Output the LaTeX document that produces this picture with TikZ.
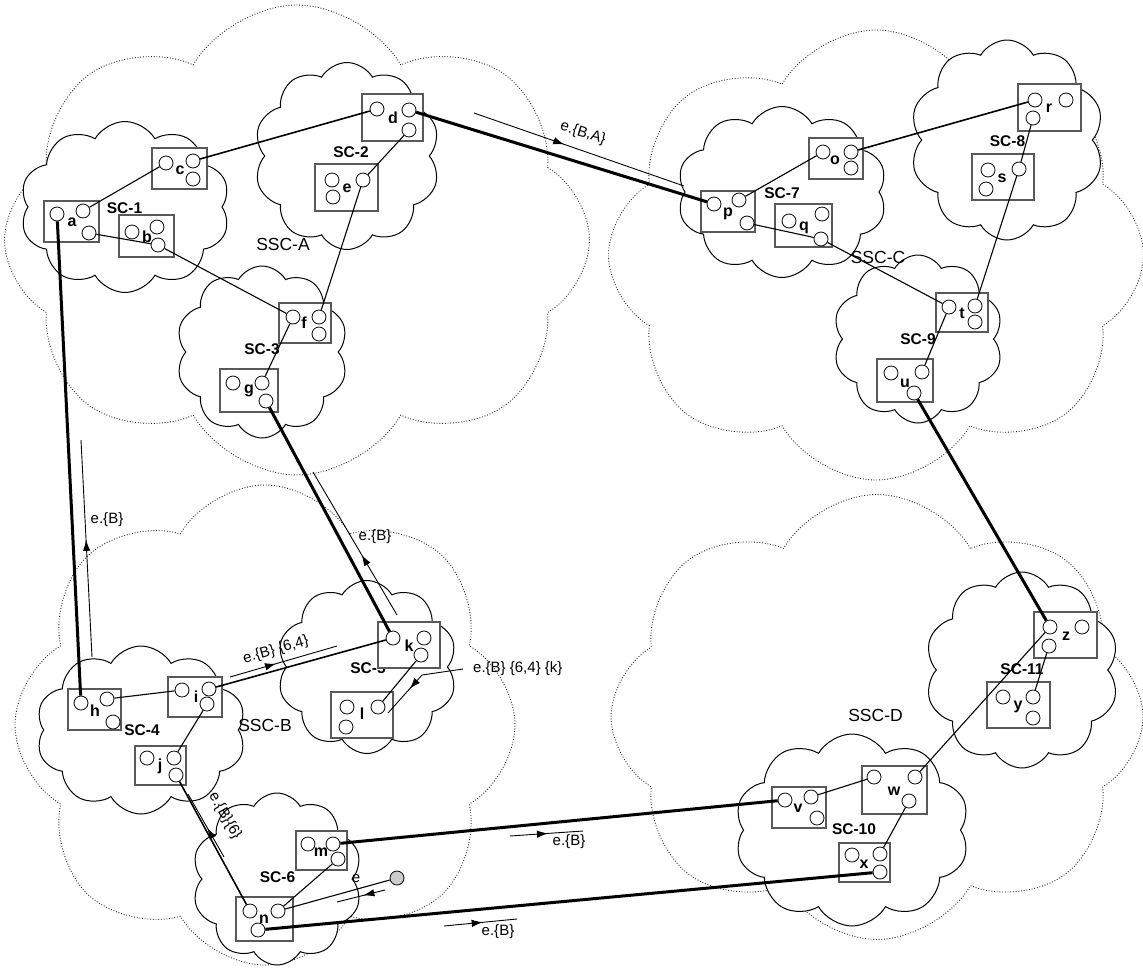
\documentclass[tikz,border=0pt]{standalone}
\usepackage{fontspec}
\setmainfont{Liberation Sans}
\usetikzlibrary{shapes.symbols,arrows.meta,decorations.markings}
\newcommand{\mkbox}[5]{\node[scbox, minimum width=#3pt, minimum height=#4pt] (#1) at (#2) {};\node[letter] (#1-l) at (#5) {#1};}
\newcommand{\mkports}[4]{\node[port] (#1-1) at (#2) {};\node[port] (#1-2) at (#3) {};\node[port] (#1-3) at (#4) {};}
\begin{document}
\begin{tikzpicture}[x=1pt,y=-1pt,
  sscloud/.style={cloud, cloud puffs=8, cloud puff arc=120, draw=black!85, line width=0.9pt, dash pattern=on 0.9pt off 1.8pt, cloud ignores aspect, inner sep=0pt},
  sccloud/.style={cloud, cloud puffs=10, cloud puff arc=120, draw=black, fill=white, line width=1pt, cloud ignores aspect, inner sep=0pt},
  scbox/.style={rectangle, draw=black!65, fill=white, line width=1.2pt, inner sep=0pt},
  port/.style={circle, draw=black, fill=white, line width=0.8pt, minimum size=14pt, inner sep=0pt},
  srcport/.style={port, fill=black!20},
  letter/.style={font=\fontsize{16}{19}\selectfont\bfseries, inner sep=0pt},
  sclabel/.style={font=\fontsize{15.5}{18}\selectfont\bfseries, inner sep=0pt},
  ssclabel/.style={font=\fontsize{17.5}{21}\selectfont, inner sep=0pt},
  elabel/.style={font=\fontsize{15}{18}\selectfont, inner sep=0pt},
  link/.style={line width=1.1pt},
  midlink/.style={line width=1.6pt},
  thicklink/.style={line width=3pt},
  annot/.style={line width=0.9pt, decoration={markings, mark=at position #1 with {\arrow{Latex[length=11pt,width=7.5pt]}}}, postaction={decorate}},
  annot/.default=0.5]
\useasboundingbox (0,0) rectangle (1143,970);
% super clouds
\node[sscloud, minimum width=585pt, minimum height=470pt] (SSCA) at (297,240) {};
\node[sscloud, minimum width=500pt, minimum height=480pt] (SSCB) at (265,725) {};
\node[sscloud, minimum width=535pt, minimum height=450pt] (SSCC) at (876,255) {};
\node[sscloud, minimum width=532pt, minimum height=445pt] (SSCD) at (877,717) {};
% clouds
\node[sccloud, minimum width=210pt, minimum height=171pt] (SC1) at (125,207) {};
\node[sccloud, minimum width=186pt, minimum height=187pt] (SC2) at (347,156) {};
\node[sccloud, minimum width=172pt, minimum height=172pt] (SC3) at (262,352) {};
\node[sccloud, minimum width=210pt, minimum height=168pt] (SC4) at (141,730) {};
\node[sccloud, minimum width=180pt, minimum height=173pt] (SC5) at (367,667) {};
\node[sccloud, minimum width=170pt, minimum height=172pt] (SC6) at (277,879) {};
\node[sccloud, minimum width=210pt, minimum height=171pt] (SC7) at (782,192) {};
\node[sccloud, minimum width=194pt, minimum height=200pt] (SC8) at (1007,140) {};
\node[sccloud, minimum width=170pt, minimum height=168pt] (SC9) at (918,339) {};
\node[sccloud, minimum width=235pt, minimum height=192pt] (SC10) at (852,830) {};
\node[sccloud, minimum width=194pt, minimum height=196pt] (SC11) at (1022,670) {};
% labels
\node[ssclabel] (SSCA-t) at (283,244.5) {SSC-A};
\node[ssclabel] (SSCB-t) at (265,725) {SSC-B};
\node[ssclabel] (SSCC-t) at (878,257) {SSC-C};
\node[ssclabel] (SSCD-t) at (875.5,715.5) {SSC-D};
\node[sclabel] (SC1-t) at (124.5,208.5) {SC-1};
\node[sclabel] (SC2-t) at (351,152) {SC-2};
\node[sclabel] (SC3-t) at (262,349) {SC-3};
\node[sclabel] (SC4-t) at (142,730) {SC-4};
\node[sclabel] (SC5-t) at (368,668) {SC-5};
\node[sclabel] (SC6-t) at (277.5,877.5) {SC-6};
\node[sclabel] (SC7-t) at (782,193) {SC-7};
\node[sclabel] (SC8-t) at (1007.5,141.5) {SC-8};
\node[sclabel] (SC9-t) at (918,339) {SC-9};
\node[sclabel] (SC10-t) at (854,829.5) {SC-10};
\node[sclabel] (SC11-t) at (1022,669.5) {SC-11};
% boxes
\mkbox{a}{71.5,221.5}{55}{41}{72,222}
\mkbox{b}{146.5,236}{55}{42}{147,237}
\mkbox{c}{179.5,168.5}{55}{41}{180,170}
\mkbox{d}{392.5,117.5}{61}{47}{393,118}
\mkbox{e}{346.5,187.5}{63}{47}{347,188}
\mkbox{f}{305,323}{52}{40}{304,323}
\mkbox{g}{249,390.5}{58}{43}{249,391}
\mkbox{h}{94.5,709.5}{53}{41}{95,711}
\mkbox{i}{195,697}{54}{40}{196,697}
\mkbox{j}{160.5,765.5}{51}{39}{160,766}
\mkbox{k}{409,645}{62}{46}{409,646}
\mkbox{l}{362,715}{62}{46}{362,714}
\mkbox{m}{321.5,850.5}{51}{39}{321,852}
\mkbox{n}{264.5,919}{57}{44}{264,919}
\mkbox{o}{836,158.5}{54}{41}{835,160}
\mkbox{p}{728,211.5}{54}{41}{728,214}
\mkbox{q}{803.5,225.5}{57}{43}{804,228}
\mkbox{r}{1049.5,107.5}{63}{47}{1049,108}
\mkbox{s}{1003,177}{62}{46}{1002,178}
\mkbox{t}{962,312.5}{52}{39}{962,313}
\mkbox{u}{905,380.5}{56}{43}{905,383}
\mkbox{v}{799,807.5}{54}{41}{798,808}
\mkbox{w}{894.5,790}{65}{48}{894,791}
\mkbox{x}{864.5,862.5}{51}{39}{864,864}
\mkbox{y}{1018.5,705}{63}{46}{1018,707}
\mkbox{z}{1065.5,635}{63}{46}{1066,636}
% ports
\mkports{a}{57,214}{83,211}{89,233}
\mkports{b}{132,232}{157,227}{158,245}
\mkports{c}{166,163}{193,161}{193,179}
\mkports{d}{377,109}{409,110}{409,130}
\mkports{e}{332,180}{333,197}{363,180}
\mkports{f}{293,317}{319,317}{319,334}
\mkports{g}{233,383}{262,383}{266,401}
\mkports{h}{81,703}{107,699}{113,722}
\mkports{i}{182,690}{209,689}{207,704}
\mkports{j}{147,758}{174,758}{176,775}
\mkports{k}{393,638}{424,638}{421,655}
\mkports{l}{347,707}{346,727}{378,707}
\mkports{m}{308,844}{333,844}{338,859}
\mkports{n}{250,911}{278,911}{258,930}
\mkports{o}{823,152}{851,152}{851,168}
\mkports{p}{714,204}{739,200}{747,223}
\mkports{q}{789,221}{822,214}{821,239}
\mkports{r}{1035,100}{1066,100}{1033,118}
\mkports{s}{988,170}{986,189}{1019,169}
\mkports{t}{949,307}{975,306}{975,322}
\mkports{u}{891,373}{922,372}{914,393}
\mkports{v}{785,800}{811,797}{817,818}
\mkports{w}{874,777}{915,777}{909,801}
\mkports{x}{852,855}{880,854}{880,872}
\mkports{y}{1003,697}{1033,697}{1033,718}
\mkports{z}{1050,627}{1082,627}{1049,646}
\node[srcport] (src) at (397,878) {};
% connectors
\draw[link] (a-2) -- (c-1);
\draw[midlink] (c-2) -- (d-1);
\draw[link] (a-3) -- (b-3);
\draw[link] (b-3) -- (f-1);
\draw[link] (d-3) -- (e-3);
\draw[link] (e-3) -- (f-2);
\draw[link] (f-1) -- (g-2);
\draw[link] (p-2) -- (o-1);
\draw[midlink] (o-2) -- (r-1);
\draw[link] (r-3) -- (s-3);
\draw[link] (s-3) -- (t-2);
\draw[link] (p-3) -- (q-3);
\draw[link] (q-3) -- (t-1);
\draw[link] (t-1) -- (u-2);
\draw[link] (z-1) -- (w-2);
\draw[link] (z-3) -- (y-2);
\draw[link] (v-2) -- (w-1);
\draw[link] (w-3) -- (x-2);
\draw[link] (h-2) -- (i-1);
\draw[midlink] (i-2) -- (k-1);
\draw[link] (i-3) -- (j-2);
\draw[midlink] (j-3) -- (n-1);
\draw[link] (m-3) -- (n-2);
\draw[link] (src) -- (n-2);
\draw[link] (k-3) -- (l-3);
\draw[thicklink] (a-1) -- (h-1);
\draw[thicklink] (d-2) -- (p-1);
\draw[thicklink] (g-3) -- (k-1);
\draw[thicklink] (u-3) -- (z-1);
\draw[thicklink] (m-2) -- (v-1);
\draw[thicklink] (n-3) -- (x-3);
% annotation arrows
\coordinate (A1s) at (92,657); \coordinate (A1e) at (81,440);
\coordinate (A2s) at (397,615); \coordinate (A2e) at (313,472);
\coordinate (A3s) at (230,677); \coordinate (A3e) at (337,646);
\coordinate (A4l) at (463,669); \coordinate (A4s) at (422,675); \coordinate (A4e) at (388,713);
\coordinate (A5s) at (224,857); \coordinate (A5e) at (188,794);
\coordinate (A6s) at (385,890); \coordinate (A6e) at (337,902);
\coordinate (A7s) at (510,836); \coordinate (A7e) at (583,831);
\coordinate (A8s) at (444,926); \coordinate (A8e) at (517,919);
\coordinate (A9s) at (474,113); \coordinate (A9e) at (684,186);
\draw[annot=0.54] (A1s) -- (A1e);
\draw[annot=0.42] (A2s) -- (A2e);
\draw[annot=0.43] (A3s) -- (A3e);
\draw[line width=0.9pt] (A4l) -- (A4s);
\draw[annot=0.36] (A4s) -- (A4e);
\draw[annot=0.46] (A5s) -- (A5e);
\draw[annot=0.45] (A6s) -- (A6e);
\draw[annot=0.52] (A7s) -- (A7e);
\draw[annot=0.53] (A8s) -- (A8e);
\draw[annot=0.43] (A9s) -- (A9e);
% annotation labels
\node[elabel] (E1) at (107,520) {e.\{B\}};
\node[elabel] (E2) at (375,537) {e.\{B\}};
\node[elabel, rotate=16] (E3) at (276,650) {e.\{B\} \{6,4\}};
\node[elabel, anchor=west] (E4) at (473,669) {e.\{B\} \{6,4\} \{k\}};
\node[elabel, rotate=-60] (E5) at (225,816) {e.\{B\}\{6\}};
\node[elabel] (E6) at (356,879) {e};
\node[elabel] (E7) at (569,842) {e.\{B\}};
\node[elabel] (E8) at (498,932) {e.\{B\}};
\node[elabel, rotate=-17] (E9) at (583,133) {e.\{B,A\}};
\end{tikzpicture}
\end{document}
